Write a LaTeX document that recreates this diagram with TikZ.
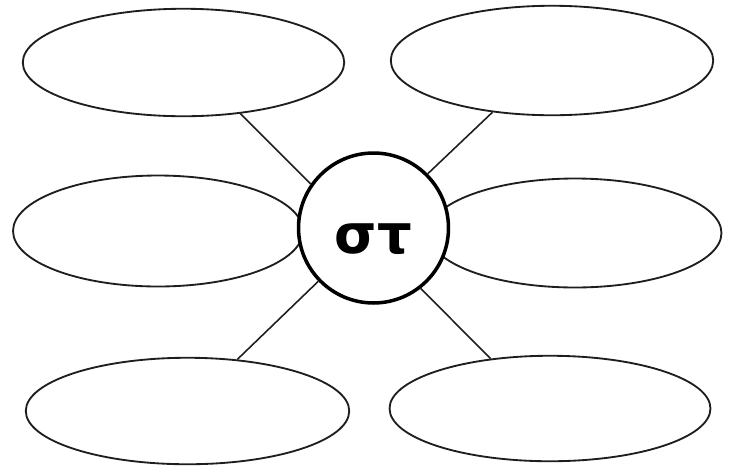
\documentclass[tikz,border=0pt]{standalone}
\usepackage{fontspec}
\newfontfamily\griegaNegra{DejaVu Sans}
\usetikzlibrary{shapes.geometric}
\definecolor{trazoG}{HTML}{1E1E1E}
\tikzset{
  globo/.style={ellipse,draw=trazoG,line width=1.05pt,inner sep=0pt},
  nucleo/.style={circle,draw=black,line width=2pt,fill=white,inner sep=0pt,minimum size=3cm},
  rayo/.style={draw=trazoG,line width=0.9pt}
}

\begin{document}
\begin{tikzpicture}[x=0.02cm,y=-0.02cm]
  \useasboundingbox (0,0) rectangle (733,467);
  \node[globo,minimum width=6.43cm,minimum height=2.15cm] (supIzq) at (183.5,62.5) {};  % arriba
  \node[globo,minimum width=6.45cm,minimum height=2.19cm] (supDer) at (552,60.5) {};
  \node[globo,minimum width=5.80cm,minimum height=2.22cm] (medIzq) at (158,231) {};     % centro
  \node[globo,minimum width=5.86cm,minimum height=2.18cm] (medDer) at (575,233) {};
  \node[globo,minimum width=6.47cm,minimum height=2.13cm] (infIzq) at (187.5,411) {};   % abajo
  \node[globo,minimum width=6.42cm,minimum height=2.11cm] (infDer) at (550,408.5) {};
  \node[nucleo] (nucleo) at (373.5,228)
    {\raisebox{-0.5cm}[0pt][0pt]{\fontsize{31}{36}\griegaNegra\bfseries στ}};
  \draw[rayo] (supIzq.-42) -- (nucleo.145);
  \draw[rayo] (supDer.-139) -- (nucleo.45);
  \draw[rayo] (infIzq.46) -- (nucleo.224);
  \draw[rayo] (infDer.140) -- (nucleo.308);
\end{tikzpicture}
\end{document}
